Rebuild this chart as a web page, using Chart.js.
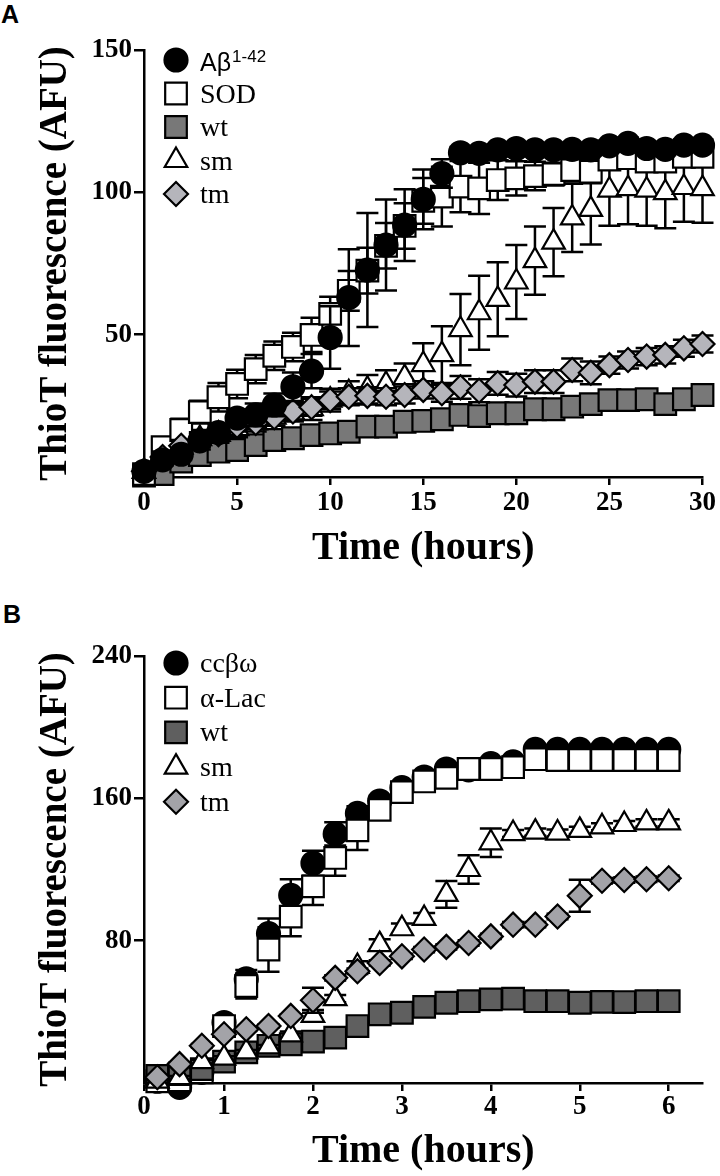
<!DOCTYPE html>
<html>
<head>
<meta charset="utf-8">
<script src="https://cdn.jsdelivr.net/npm/chart.js@4.4.0/dist/chart.umd.min.js"></script>
<style>
  body { margin: 0; background: #fff; width: 720px; height: 1176px; position: relative; overflow: hidden; }
  canvas { position: absolute; left: 0; }
  #graficoA { top: 0; }
  #graficoB { top: 590px; }
  .letra { position: absolute; font: bold 25px "Liberation Sans", Arial, sans-serif; line-height: 25px; }
</style>
</head>
<body>
<div class="letra" style="left:1px;top:2px">A</div>
<div class="letra" style="left:3px;top:602px">B</div>
<canvas id="graficoA" width="720" height="590"></canvas>
<canvas id="graficoB" width="720" height="586"></canvas>
<script>
// Panel A: lecturas cada hora
const horasA = [0, 1, 2, 3, 4, 5, 6, 7, 8, 9, 10, 11, 12, 13, 14, 15, 16, 17, 18, 19, 20, 21, 22, 23, 24, 25, 26, 27, 28, 29, 30];
const abeta = [2, 6, 8, 12.7, 15.6, 20.7, 21.8, 25.3, 31.7, 37.2, 49, 63, 72.7, 81.5, 88.5, 97.5, 106.6, 113.9, 113.7, 114.9, 115.4, 114.9, 114.9, 115.1, 114.9, 116.3, 117.2, 115.4, 115.1, 116.6, 116.6];
const abetaErr = [1, 2, 2, 3, 3, 3, 4, 4, 5, 6, 11, 17, 20, 16, 12.6, 10.5, 5, 2, 2, 2, 2, 2, 2, 2, 2, 2, 2, 2, 2, 2, 2];
const sodA = [1, 10.5, 16.5, 22.8, 28, 32.7, 37.9, 42.6, 45.7, 49.9, 57.3, 65.4, 72.5, 81.2, 88.2, 97, 98.5, 102, 101.4, 104.3, 104.9, 105.7, 106.4, 107.8, 107.2, 111.5, 112, 110.8, 110.8, 112.5, 112.5];
const sodErr = [1, 3, 4, 4, 5, 5, 5, 5, 5, 6, 6, 7, 8, 8, 8, 8, 10.5, 9, 9, 7, 6, 5, 4, 4, 4, 3, 3, 3, 3, 3, 3];
const wtA = [0.5, 1, 5.4, 7.7, 8.9, 9.5, 11.2, 13, 13.6, 14.7, 15.3, 15.9, 17.7, 17.7, 19.4, 19.7, 20.3, 21.8, 21.4, 22.4, 22.4, 23.8, 23.8, 24.7, 25.6, 27, 27, 27.3, 25.6, 27.3, 28.8];
const wtAErr = [1, 1, 1, 1.5, 1.5, 1.5, 1.5, 1.5, 1.5, 1.5, 1.5, 1.5, 2, 2, 2, 2, 2, 2, 2, 2, 2, 2, 2, 2, 2, 2, 2, 2, 2, 2, 2];
const smA = [2, 8, 10.5, 13.5, 15, 17, 19, 21, 22.5, 24, 27, 29.6, 30.8, 32.5, 34.9, 39.5, 43, 51.8, 57.7, 62.4, 68.5, 76, 82.5, 91, 94, 100.8, 101.3, 100.8, 99.9, 101.7, 101.3];
const smAErr = [1, 2, 3, 3, 3, 3, 3, 3, 3, 4, 4, 4, 5, 5, 5, 7.5, 10, 12.5, 13, 13, 13, 12, 12, 12, 12.3, 12.5, 12.5, 12.5, 12.5, 12, 12];
const tmA = [2, 7, 11, 13, 15, 18, 19, 21, 23, 24.5, 27, 28.2, 28.5, 28.2, 28.8, 30.6, 29.4, 31.5, 30.3, 32.9, 32.3, 33.5, 33.5, 37.6, 36.6, 39.3, 41.1, 42.3, 42.9, 45.2, 46.7];
const tmAErr = [1, 2, 2, 2, 2, 2, 2, 3, 3, 3, 3, 3, 3, 3, 3, 3, 3, 4, 4, 4, 4, 4, 4, 4, 4, 3, 3, 3, 3, 3, 3];

// Panel B: lecturas cada 15 minutos
const horasB = [0.25, 0.5, 0.75, 1, 1.25, 1.5, 1.75, 2, 2.25, 2.5, 2.75, 3, 3.25, 3.5, 3.75, 4, 4.25, 4.5, 4.75, 5, 5.25, 5.5, 5.75, 6];
const ccbw = [1, -2.5, 6, 34, 58.5, 84, 105.5, 123.5, 140, 151.5, 158.5, 166, 172, 176.5, 176, 179.5, 180.5, 187.5, 187.5, 187.5, 187.5, 187.5, 187.5, 187.5];
const ccbwErr = [1, 1, 1, 2, 5, 8.5, 9, 7, 6.5, 4, 3, 2, 2, 2, 2, 2, 2, 2, 2, 2, 2, 2, 2, 2];
const aLac = [1, 1.5, 6, 32, 54.5, 75, 93.5, 110.5, 126.5, 142, 153.5, 163.5, 169.5, 171.5, 176.5, 176.5, 177.5, 182, 181.5, 181.5, 181.5, 181.5, 181.5, 181.5];
const aLacErr = [1, 1, 1, 2, 7, 12.5, 11, 10.5, 10, 11, 5, 3, 3, 3, 2, 2, 2, 2, 2, 2, 2, 2, 2, 2];
const wtB = [4, 5, 7.8, 12, 17.2, 20.9, 21.8, 23.3, 25.5, 32, 38.6, 39.5, 42.8, 45.1, 46, 47, 47.4, 46, 46, 45.1, 45.6, 45.5, 46, 46];
const wtBErr = [1.5, 1.5, 1.5, 1.5, 1.5, 1.5, 1.5, 1.5, 1.5, 1.5, 1.5, 1.5, 1.5, 1.5, 1.5, 1.5, 1.5, 1.5, 1.5, 1.5, 1.5, 1.5, 1.5, 1.5];
const smB = [1, 3, 12, 14, 17.5, 20.3, 27, 38, 47.4, 65.5, 77.8, 86.7, 92.5, 106, 120, 135, 140.2, 141, 140.5, 142, 144, 145.3, 146.2, 146.2];
const smBErr = [1, 1, 1, 1, 1, 1, 2, 3, 2, 3, 3, 3, 3, 7.5, 8, 8, 2, 2, 2, 2, 2, 2, 2, 2];
const tmB = [3.2, 10.6, 20.9, 27.4, 30.2, 32, 37.7, 46.5, 59.1, 62.8, 67.5, 71.2, 75, 76.5, 78.7, 82.4, 89, 89, 93.6, 105.2, 113.7, 114.1, 114.5, 115.1];
const tmBErr = [1, 1, 1, 1, 1, 1, 1, 7, 1.5, 1.5, 1.5, 1.5, 1.5, 1.5, 1.5, 1.5, 1.5, 1.5, 1.5, 9, 1.5, 1.5, 1.5, 1.5];

// Ejes
const ticksXA = [0, 5, 10, 15, 20, 25, 30];
const ticksYA = [50, 100, 150];
const ticksXB = [0, 1, 2, 3, 4, 5, 6];
const ticksYB = [80, 160, 240];
const etiquetasA = ['Aβ', 'SOD', 'wt', 'sm', 'tm'];
const etiquetasB = ['ccβω', 'α-Lac', 'wt', 'sm', 'tm'];
const tituloX = 'Time (hours)';
const tituloY = 'ThioT fluorescence (AFU)';

const serif = '"Liberation Serif", "Times New Roman", serif';
const sans = '"Liberation Sans", Arial, sans-serif';

function puntos(xs, ys) {
  return xs.map((x, i) => ({ x: x, y: ys[i] }));
}

function serie(label, xs, ys, errores, estilo, radio, relleno, orden) {
  return {
    label: label,
    data: puntos(xs, ys),
    errores: errores,
    pointStyle: estilo,
    pointRadius: radio,
    pointHoverRadius: radio,
    backgroundColor: relleno,
    borderColor: '#000',
    borderWidth: 2.2,
    showLine: false,
    clip: false,
    order: orden
  };
}

// Barras de error: se dibujan justo antes de los marcadores de cada serie
const barrasError = {
  id: 'barrasError',
  beforeDatasetDraw(chart, args) {
    const ds = chart.data.datasets[args.index];
    if (!ds.errores) return;
    const { ctx, scales: { x, y } } = chart;
    ctx.save();
    ctx.strokeStyle = '#000';
    ctx.lineWidth = 2.5;
    ds.data.forEach((p, i) => {
      const e = ds.errores[i];
      if (!e) return;
      const px = x.getPixelForValue(p.x);
      const arriba = y.getPixelForValue(p.y + e);
      const abajo = y.getPixelForValue(p.y - e);
      ctx.beginPath();
      ctx.moveTo(px, arriba); ctx.lineTo(px, abajo);
      ctx.moveTo(px - 11, arriba); ctx.lineTo(px + 11, arriba);
      ctx.moveTo(px - 11, abajo); ctx.lineTo(px + 11, abajo);
      ctx.stroke();
    });
    ctx.restore();
  }
};

// Leyenda dentro del área del gráfico, arriba a la izquierda
const leyenda = {
  id: 'leyenda',
  afterDraw(chart, args, o) {
    const ctx = chart.ctx;
    ctx.save();
    chart.data.datasets.forEach((ds, i) => {
      const cy = o.y + i * o.paso;
      ctx.fillStyle = ds.backgroundColor;
      ctx.strokeStyle = '#000';
      ctx.lineWidth = ds.borderWidth;
      Chart.helpers.drawPoint(ctx, { pointStyle: ds.pointStyle, radius: ds.pointRadius, borderWidth: ds.borderWidth, rotation: 0 }, o.x, cy);
      ctx.fillStyle = '#000';
      ctx.textBaseline = 'alphabetic';
      ctx.textAlign = 'left';
      const tx = o.x + 24;
      if (ds.label === 'Aβ') {
        ctx.font = '25px ' + sans;
        ctx.fillText(ds.label, tx, cy + 11);
        const w = ctx.measureText(ds.label).width;
        ctx.font = '17px ' + sans;
        ctx.fillText('1-42', tx + w + 1, cy + 2);
      } else {
        ctx.font = '28px ' + serif;
        ctx.fillText(ds.label, tx, cy + 9);
      }
    });
    ctx.restore();
  }
};

function crearGrafico(id, series, cfg) {
  const fuenteTick = { family: serif, size: 27, weight: 'bold' };
  return new Chart(document.getElementById(id), {
    type: 'scatter',
    data: { datasets: series },
    options: {
      responsive: false,
      animation: false,
      events: [],
      layout: { padding: { top: cfg.arriba, right: cfg.derecha, left: 0, bottom: 0 } },
      plugins: {
        legend: { display: false },
        tooltip: { enabled: false },
        leyenda: cfg.leyenda
      },
      scales: {
        x: {
          type: 'linear',
          min: cfg.xMin,
          max: cfg.xMax,
          afterBuildTicks: s => { s.ticks = cfg.xTicks.map(v => ({ value: Math.max(v, cfg.xMin) })); },
          afterFit: s => { s.height = cfg.altoX; },
          ticks: {
            font: fuenteTick,
            color: '#000',
            padding: cfg.padX,
            callback: v => (v <= cfg.xMin + 0.001 ? '0' : String(v))
          },
          grid: { display: true, drawOnChartArea: false, tickLength: 8, color: '#000', lineWidth: 2.5 },
          border: { display: true, color: '#000', width: 2.5 },
          title: { display: true, text: tituloX, font: { family: serif, size: 40, weight: 'bold' }, color: '#000', padding: { top: 0, bottom: cfg.padTituloX } }
        },
        y: {
          type: 'linear',
          min: 0,
          max: cfg.yMax,
          afterBuildTicks: s => { s.ticks = cfg.yTicks.map(v => ({ value: v })); },
          afterFit: s => { s.width = 144; },
          ticks: { font: fuenteTick, color: '#000', padding: 2 },
          grid: { display: true, drawOnChartArea: false, tickLength: 10, color: '#000', lineWidth: 2.5 },
          border: { display: true, color: '#000', width: 2.5 },
          title: { display: true, text: tituloY, font: { family: serif, size: 39, weight: 'bold' }, color: '#000', padding: { top: 33, bottom: 0 } }
        }
      }
    },
    plugins: [barrasError, leyenda]
  });
}

crearGrafico('graficoA', [
  serie(etiquetasA[0], horasA, abeta, abetaErr, 'circle', 11.5, '#000000', 1),
  serie(etiquetasA[1], horasA, sodA, sodErr, 'rect', 15.3, '#ffffff', 3),
  serie(etiquetasA[2], horasA, wtA, wtAErr, 'rect', 15.3, '#787878', 5),
  serie(etiquetasA[3], horasA, smA, smAErr, 'triangle', 13, '#ffffff', 4),
  serie(etiquetasA[4], horasA, tmA, tmAErr, 'rectRot', 12, '#b5b5bb', 2)
], {
  arriba: 50, derecha: 17, altoX: 113, padX: 2, padTituloX: 17,
  xMin: 0, xMax: 30, xTicks: ticksXA, yMax: 150, yTicks: ticksYA,
  leyenda: { x: 176, y: 60, paso: 33.5 }
});

crearGrafico('graficoB', [
  serie(etiquetasB[0], horasB, ccbw, ccbwErr, 'circle', 11.5, '#000000', 5),
  serie(etiquetasB[1], horasB, aLac, aLacErr, 'rect', 15.3, '#ffffff', 4),
  serie(etiquetasB[2], horasB, wtB, wtBErr, 'rect', 15.3, '#5f5f5f', 3),
  serie(etiquetasB[3], horasB, smB, smBErr, 'triangle', 13, '#ffffff', 2),
  serie(etiquetasB[4], horasB, tmB, tmBErr, 'rectRot', 12, '#a3a3a8', 1)
], {
  arriba: 66, derecha: 15, altoX: 93, padX: 0, padTituloX: 0,
  xMin: 0.1, xMax: 6.38, xTicks: ticksXB, yMax: 240, yTicks: ticksYB,
  leyenda: { x: 176, y: 73, paso: 34.7 }
});
</script>
</body>
</html>
